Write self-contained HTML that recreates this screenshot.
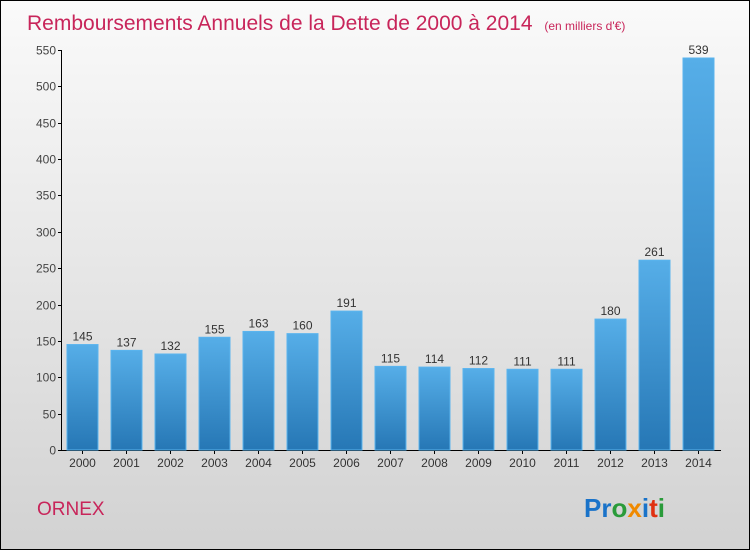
<!DOCTYPE html>
<html><head><meta charset="utf-8"><style>
body{margin:0;width:750px;height:550px;overflow:hidden}
#wrap{position:relative;width:748px;height:548px;border:1px solid #000;background:linear-gradient(#fafafa,#d2d2d2);font-family:"Liberation Sans",sans-serif}
</style></head><body>
<div id="wrap">
<svg id="chart" width="748" height="548" style="position:absolute;left:0;top:0">
<defs><linearGradient id="bg" x1="0" y1="0" x2="0" y2="1"><stop offset="0" stop-color="#56aee8"/><stop offset="1" stop-color="#2677b5"/></linearGradient></defs>
<text x="26" y="29" font-size="21" fill="#c8255a">Remboursements Annuels de la Dette de 2000 à 2014 <tspan font-size="12" dx="6">(en milliers d'€)</tspan></text>
<g id="axes"></g><g id="bars"></g>
<text x="36" y="514" font-size="19" fill="#c8255a">ORNEX</text>
<text x="583" y="516" font-size="26" font-weight="bold"><tspan fill="#1a73c9">Pr</tspan><tspan fill="#2a9b3a">o</tspan><tspan fill="#f08a00">x</tspan><tspan fill="#1a73c9">i</tspan><tspan fill="#e03010">t</tspan><tspan fill="#2a9b3a">i</tspan></text>
</svg></div>
<script>
const years=["2000","2001","2002","2003","2004","2005","2006","2007","2008","2009","2010","2011","2012","2013","2014"];
const values=[145,137,132,155,163,160,191,115,114,112,111,111,180,261,539];
const ticks=[0,50,100,150,200,250,300,350,400,450,500,550];
const NS="http://www.w3.org/2000/svg";
const y0=449,yTop=49,vmax=550;
function yS(v){return y0-(v/vmax)*(y0-yTop);}
function xS(i){return 81.5+44*i;}
function mk(t,a,p){const e=document.createElementNS(NS,t);for(const k in a)e.setAttribute(k,a[k]);p.appendChild(e);return e;}
const ax=document.getElementById('axes'),bg=document.getElementById('bars');
let l=mk('line',{x1:60.5,y1:yTop,x2:60.5,y2:y0+0.5,stroke:'#000'},ax);


l=mk('line',{x1:60,y1:y0+0.5,x2:720,y2:y0+0.5,stroke:'#000'},ax);


ticks.forEach(t=>{const y=Math.round(yS(t))+0.5;
mk('line',{x1:57,y1:y,x2:61,y2:y,stroke:'#000'},ax);
const tx=mk('text',{x:55,y:y+4,'font-size':12,fill:'#444','text-anchor':'end'},ax);tx.textContent=t;

});
years.forEach((yr,i)=>{const x=xS(i),v=values[i],yt=yS(v);
const r=mk('rect',{x:x-15.5,y:yt,width:31,height:y0-yt,fill:'url(#bg)',stroke:'#5ab4ee','stroke-width':1},bg);


const vt=mk('text',{x:x,y:yt-4,'font-size':12,fill:'#333','text-anchor':'middle'},bg);vt.textContent=v;


mk('line',{x1:x,y1:y0,x2:x,y2:y0+4,stroke:'#000'},ax);
const xt=mk('text',{x:x,y:466,'font-size':12,fill:'#333','text-anchor':'middle'},ax);xt.textContent=yr;

});
</script></body></html>
